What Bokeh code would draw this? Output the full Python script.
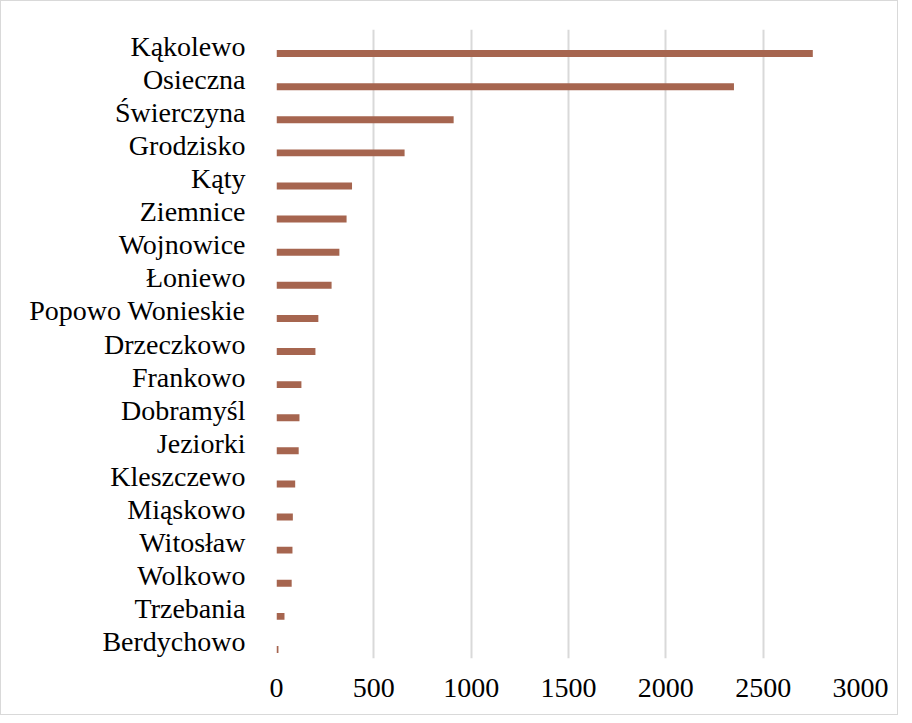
from bokeh.plotting import figure
from bokeh.models import ColumnDataSource, FactorRange, Range1d, FixedTicker
from bokeh.transform import dodge
from bokeh.embed import file_html
from bokeh.resources import INLINE

categories = ["Kąkolewo", "Osieczna", "Świerczyna", "Grodzisko", "Kąty", "Ziemnice",
              "Wojnowice", "Łoniewo", "Popowo Wonieskie", "Drzeczkowo", "Frankowo",
              "Dobramyśl", "Jeziorki", "Kleszczewo", "Miąskowo", "Witosław", "Wolkowo",
              "Trzebania", "Berdychowo"]
values = [2755, 2350, 910, 658, 388, 360, 323, 283, 215, 200, 128, 118, 114, 96, 84, 82, 78, 41, 10]
x_ticks = [0, 500, 1000, 1500, 2000, 2500, 3000]

cats_bottom_up = list(reversed(categories))
vals_bottom_up = list(reversed(values))
src = ColumnDataSource(dict(cat=cats_bottom_up, val=vals_bottom_up))

p = figure(width=898, height=715, output_backend="svg", toolbar_location=None,
           y_range=FactorRange(factors=cats_bottom_up, range_padding=0),
           x_range=Range1d(0, 3000))
p.min_border_left = 275
p.min_border_right = 39
p.min_border_top = 28
p.min_border_bottom = 58
p.outline_line_color = None
p.background_fill_color = "white"
p.border_fill_color = "white"
p.styles = {"border": "1px solid #d9d9d9"}

p.hbar(y=dodge("cat", -0.227, range=p.y_range), right="val", left=0, height=0.21,
       source=src, color="#A6654F", line_color=None)

p.xgrid.ticker = FixedTicker(ticks=x_ticks)
p.xgrid.grid_line_color = "#d9d9d9"
p.xgrid.grid_line_width = 2
p.ygrid.grid_line_color = None

p.xaxis.ticker = FixedTicker(ticks=x_ticks)
p.xaxis.axis_line_color = None
p.xaxis.major_tick_line_color = None
p.xaxis.minor_tick_line_color = None
p.xaxis.major_label_text_font = "Liberation Serif"
p.xaxis.major_label_text_font_size = "28px"
p.xaxis.major_label_text_color = "black"
p.xaxis.major_label_standoff = 14

p.yaxis.axis_line_color = None
p.yaxis.major_tick_line_color = None
p.yaxis.minor_tick_line_color = None
p.yaxis.major_label_text_font = "Liberation Serif"
p.yaxis.major_label_text_font_size = "28px"
p.yaxis.major_label_text_color = "black"
p.yaxis.major_label_standoff = 25

open("out.html", "w").write(file_html(p, INLINE))
